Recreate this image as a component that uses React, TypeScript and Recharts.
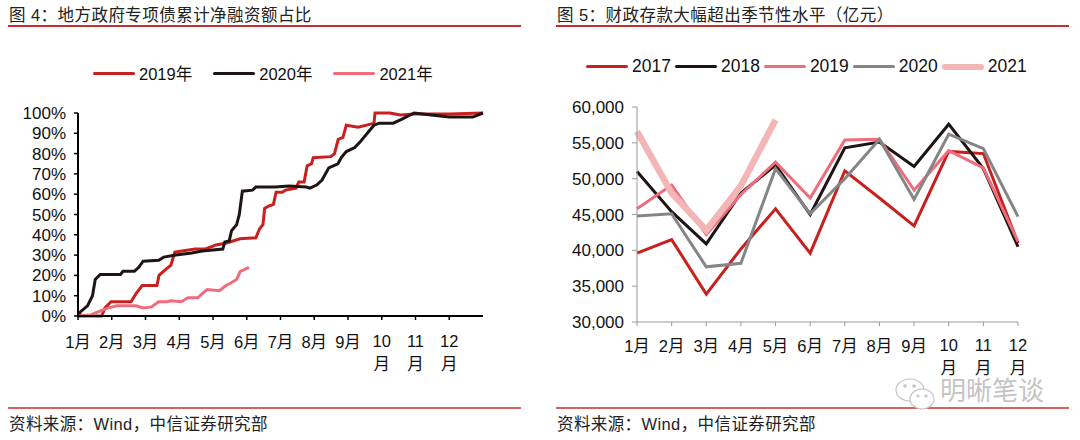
import React from "react";
import { LineChart, Line, XAxis, YAxis, Legend } from "recharts";

const FONT = '"Liberation Sans", "Noto Sans CJK SC", sans-serif';
const RED = "#c8201f";
const BLACK = "#1f1414";
const PINK = "#ee6c7c";
const GREY = "#858585";
const LIGHT = "#f4b5b6";

// left chart: position in months since January, share of the year's total in %
const monthLabels = ["1月", "2月", "3月", "4月", "5月", "6月", "7月", "8月", "9月", "10月", "11月", "12月"];
const shareTicks = [0, 10, 20, 30, 40, 50, 60, 70, 80, 90, 100];
const monthTicks = [0, 1, 2, 3, 4, 5, 6, 7, 8, 9, 10, 11];

const pos2019 = [0, 0.7, 0.8, 0.98, 1.57, 1.72, 1.9, 2.34, 2.4, 2.6, 2.75, 2.87, 3.47, 3.78, 4.09, 4.4, 4.8, 5.27, 5.38, 5.48, 5.53, 5.63, 5.79, 5.87, 6.05, 6.15, 6.46, 6.54, 6.7, 6.79, 6.92, 6.97, 7.49, 7.6, 7.71, 7.85, 7.95, 8.3, 8.67, 8.77, 8.8, 9.24, 9.55, 9.96, 11, 12];
const share2019 = [0, 0, 4, 7, 7, 11, 15, 15, 20, 23, 25, 31.5, 33, 33, 35, 36, 38, 38.5, 43, 45, 53, 54, 55, 61, 61, 62, 63, 66, 66, 74, 75, 78, 78.5, 80, 87, 88, 94, 93, 94.5, 95, 100, 100, 99, 99.5, 99.5, 100];

const pos2020 = [0, 0.07, 0.28, 0.43, 0.51, 0.66, 1.26, 1.33, 1.67, 1.8, 1.93, 2.39, 2.54, 2.9, 3.37, 3.68, 4.29, 4.35, 4.48, 4.55, 4.7, 4.78, 4.87, 5.17, 5.27, 5.84, 6.25, 6.77, 6.87, 7.07, 7.23, 7.33, 7.43, 7.7, 7.8, 7.95, 8.2, 8.37, 8.47, 8.62, 8.77, 8.93, 9.34, 9.6, 9.96, 10.47, 11, 11.7, 12];
const share2020 = [0, 2, 5, 10, 18, 20.5, 20.5, 22, 22, 24, 27, 27.5, 29, 30, 31, 32, 33, 36.5, 37, 42, 45, 50, 61.5, 62, 63.5, 63.5, 64, 63.5, 63, 64.5, 67, 70, 73, 75, 78, 81, 83, 86, 88, 91, 94, 95, 95, 97, 100, 99, 98, 98, 100];

const pos2021 = [0, 0.38, 0.59, 0.9, 1.15, 1.72, 1.93, 2.18, 2.39, 2.64, 2.75, 3.06, 3.26, 3.55, 3.68, 3.83, 4.19, 4.38, 4.5, 4.7, 4.81, 5.07];
const share2021 = [0, 0.5, 2, 4, 5, 5, 4, 4.5, 7, 7, 7.5, 7, 9, 9, 11, 13, 12.5, 15, 16, 18, 22, 24];

// right chart: 亿元 by month
const depositTicks = [30000, 35000, 40000, 45000, 50000, 55000, 60000];
const deposit2017 = [39600, 41500, 33900, 40200, 45800, 39600, 51100, 47300, 43400, 53800, 53500, 41000];
const deposit2018 = [51000, 45400, 40900, 48000, 51900, 45000, 54300, 55100, 51700, 57600, 51400, 40500];
const deposit2019 = [45800, 49100, 42200, 47800, 52300, 47300, 55400, 55500, 48400, 53900, 51500, 41200];
const deposit2020 = [44800, 45100, 37700, 38200, 51400, 45100, 50000, 55500, 47100, 56200, 54200, 44700];
const deposit2021 = [56600, 48000, 42800, 49000, 58200];

const zip = (xs: number[], ys: number[]) => xs.map((x, i) => ({ x, y: ys[i] }));

const depositRows = monthLabels.map((month, i) => ({
  month,
  y2017: deposit2017[i],
  y2018: deposit2018[i],
  y2019: deposit2019[i],
  y2020: deposit2020[i],
  y2021: deposit2021[i],
}));

// two digit months wrap under the number, as in the original
const MonthTick = ({ x, y, payload, labelOf, dy }: any) => {
  const label: string = labelOf ? labelOf(payload.value) : payload.value;
  const color = "#111";
  if (label.length > 2) {
    return (
      <text x={x} textAnchor="middle" fontSize={16.5} fontFamily={FONT} fill={color}>
        <tspan x={x} y={y + dy - 1}>{label.slice(0, 2)}</tspan>
        <tspan x={x} y={y + dy + 22}>{label.slice(2)}</tspan>
      </text>
    );
  }
  return (
    <text x={x} y={y + dy} textAnchor="middle" fontSize={16.5} fontFamily={FONT} fill={color}>
      {label}
    </text>
  );
};

const LegendRow = ({ items, lineW, gap, fontSize }: any) => (
  <div style={{ display: "flex", alignItems: "center", fontFamily: FONT, fontSize, color: "#111", whiteSpace: "nowrap" }}>
    {items.map((it: any) => (
      <div key={it.name} style={{ display: "flex", alignItems: "center", marginRight: gap }}>
        <span style={{ display: "inline-block", width: lineW, height: it.h, background: it.color, borderRadius: it.h / 2, marginRight: 4 }} />
        {it.name}
      </div>
    ))}
  </div>
);

const legendLeft = [
  { name: "2019年", color: RED, h: 3 },
  { name: "2020年", color: BLACK, h: 3 },
  { name: "2021年", color: PINK, h: 3 },
];
const legendRight = [
  { name: "2017", color: RED, h: 3 },
  { name: "2018", color: BLACK, h: 3 },
  { name: "2019", color: PINK, h: 3 },
  { name: "2020", color: GREY, h: 3 },
  { name: "2021", color: LIGHT, h: 6 },
];

const textAt = (left: number, top: number, text: string, fontSize: number, extra: React.CSSProperties = {}) => (
  <div style={{ position: "absolute", left, top, fontSize, lineHeight: "20px", fontFamily: FONT, color: "#222", whiteSpace: "nowrap", ...extra }}>
    {text}
  </div>
);

const ruleAt = (left: number, top: number, width: number, color: string) => (
  <div style={{ position: "absolute", left, top, width, height: 1.5, background: color }} />
);

export default function App() {
  return (
    <div style={{ position: "absolute", left: 0, top: 0, width: 1080, height: 440, background: "#fff", overflow: "hidden" }}>
      {textAt(9, 5, "图 4：地方政府专项债累计净融资额占比", 16.5, { letterSpacing: 0.45 })}
      {ruleAt(8, 25, 513, "#c03030")}
      {textAt(557, 5, "图 5：财政存款大幅超出季节性水平（亿元）", 16.5, { letterSpacing: 0.45 })}
      {ruleAt(556, 25, 513, "#c03030")}

      <div style={{ position: "absolute", left: 0, top: 0 }}>
        <LineChart width={540} height={400} margin={{ top: 113, right: 57, bottom: 34, left: 18 }}>
          <XAxis
            type="number"
            dataKey="x"
            domain={[0, 12]}
            ticks={monthTicks}
            interval={0}
            height={50}
            allowDuplicatedCategory={false}
            axisLine={{ stroke: "#000", strokeWidth: 2 }}
            tickLine={{ stroke: "#000", strokeWidth: 1.5 }}
            tickSize={4}
            tick={<MonthTick labelOf={(v: number) => monthLabels[v]} dy={26} />}
          />
          <YAxis
            type="number"
            dataKey="y"
            domain={[0, 100]}
            ticks={shareTicks}
            interval={0}
            width={60}
            tickFormatter={(v: number) => `${v}%`}
            axisLine={{ stroke: "#000", strokeWidth: 2 }}
            tickLine={{ stroke: "#000", strokeWidth: 1.5 }}
            tickSize={4}
            tickMargin={8}
            tick={{ fontSize: 17, fontFamily: FONT, fill: "#111" }}
          />
          <Legend
            verticalAlign="middle"
            align="center"
            wrapperStyle={{ position: "absolute", left: 93, top: 61, width: 360, height: 22 }}
            content={() => <LegendRow items={legendLeft} lineW={42} gap={21} fontSize={16.5} />}
          />
          <Line data={zip(pos2019, share2019)} dataKey="y" name="2019年" stroke={RED} strokeWidth={3} dot={false} isAnimationActive={false} />
          <Line data={zip(pos2020, share2020)} dataKey="y" name="2020年" stroke={BLACK} strokeWidth={3} dot={false} isAnimationActive={false} />
          <Line data={zip(pos2021, share2021)} dataKey="y" name="2021年" stroke={PINK} strokeWidth={3} dot={false} isAnimationActive={false} />
        </LineChart>
      </div>

      <div style={{ position: "absolute", left: 540, top: 0 }}>
        <LineChart data={depositRows} width={540} height={400} margin={{ top: 107, right: 62, bottom: 28, left: 27 }}>
          <XAxis
            dataKey="month"
            interval={0}
            height={50}
            scale="point"
            padding={{ left: 0, right: 0 }}
            axisLine={{ stroke: "#999" }}
            tickLine={{ stroke: "#999" }}
            tickSize={4}
            tick={<MonthTick dy={24} />}
          />
          <YAxis
            domain={[30000, 60000]}
            ticks={depositTicks}
            interval={0}
            width={70}
            tickFormatter={(v: number) => v.toLocaleString("en-US")}
            axisLine={{ stroke: "#999" }}
            tickLine={{ stroke: "#999" }}
            tickSize={5}
            tickMargin={8}
            tick={{ fontSize: 17, fontFamily: FONT, fill: "#111" }}
          />
          <Legend
            verticalAlign="middle"
            align="center"
            wrapperStyle={{ position: "absolute", left: 46, top: 56, width: 490, height: 22 }}
            content={() => <LegendRow items={legendRight} lineW={42} gap={4} fontSize={17.5} />}
          />
          <Line dataKey="y2017" name="2017" stroke={RED} strokeWidth={3} dot={false} isAnimationActive={false} />
          <Line dataKey="y2018" name="2018" stroke={BLACK} strokeWidth={3} dot={false} isAnimationActive={false} />
          <Line dataKey="y2019" name="2019" stroke={PINK} strokeWidth={3} dot={false} isAnimationActive={false} />
          <Line dataKey="y2020" name="2020" stroke={GREY} strokeWidth={3} dot={false} isAnimationActive={false} />
          <Line dataKey="y2021" name="2021" stroke={LIGHT} strokeWidth={6.5} dot={false} isAnimationActive={false} />
        </LineChart>
      </div>

      {ruleAt(8, 407, 513, "#d9605f")}
      {ruleAt(556, 407, 513, "#d9605f")}
      {textAt(9, 414, "资料来源：Wind，中信证券研究部", 16.5, { letterSpacing: 0.4 })}
      {textAt(557, 414, "资料来源：Wind，中信证券研究部", 16.5, { letterSpacing: 0.4 })}

      <svg style={{ position: "absolute", left: 893, top: 376 }} width={48} height={36} fill="none" stroke="#c4c4c4" strokeWidth={1.2}>
        <ellipse cx={17} cy={14} rx={14} ry={11} fill="#fff" />
        <ellipse cx={29} cy={23} rx={12} ry={10} fill="#fff" />
        <circle cx={12} cy={10} r={1.2} fill="#c4c4c4" />
        <circle cx={21} cy={10} r={1.2} fill="#c4c4c4" />
        <circle cx={25} cy={20} r={1} fill="#c4c4c4" />
        <circle cx={33} cy={20} r={1} fill="#c4c4c4" />
      </svg>
      {textAt(940, 381, "明晰笔谈", 26, { color: "#c4c4c4" })}
    </div>
  );
}
